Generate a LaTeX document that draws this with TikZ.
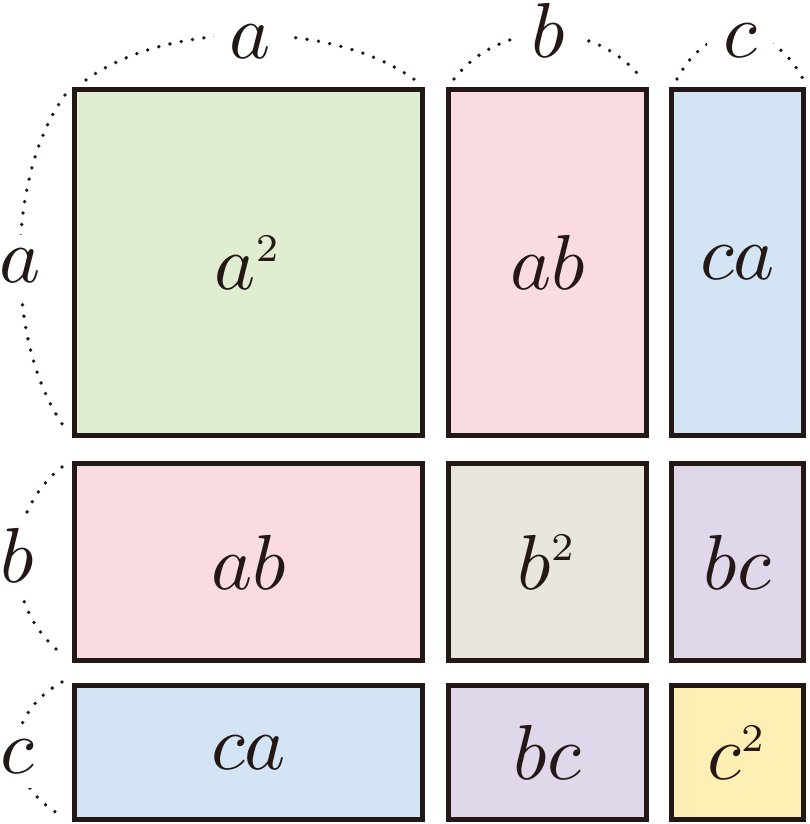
\documentclass[tikz,border=0pt]{standalone}
\usepackage{graphicx}
\definecolor{bord}{HTML}{231815}
\definecolor{cgreen}{HTML}{E1EDD0}
\definecolor{cpink}{HTML}{F9DBE1}
\definecolor{cblue}{HTML}{D3E5F5}
\definecolor{cbeige}{HTML}{E9E7DD}
\definecolor{cpurple}{HTML}{E1D7EB}
\definecolor{cyellow}{HTML}{FFEFB5}
\newcommand{\mylbl}[1]{\scalebox{7.8}{$#1$}}
\newcommand{\sqtwo}{\scalebox{0.72}{$\scriptstyle 2$}}
\tikzset{
  cell/.style={draw=bord, line width=5pt, rectangle, inner sep=0pt, text=bord},
  dimline/.style={draw=bord, line width=3.8pt, line cap=round, dash pattern=on 0pt off 11.5pt},
  toplabel/.style={fill=white, inner xsep=16pt, inner ysep=1pt, text=bord, anchor=base, yshift=-24pt},
  leftlabel/.style={fill=white, inner xsep=2pt, inner ysep=14pt, text=bord},
}
\begin{document}
\begin{tikzpicture}[x=1pt,y=-1pt]
\useasboundingbox (0,0) rectangle (810,824);
% cells
\node[cell, fill=cgreen,  minimum width=348pt, minimum height=346pt] (aa) at (248.5,262.5) {\mylbl{a^{\sqtwo}}};
\node[cell, fill=cpink,   minimum width=198pt, minimum height=346pt] (ab1) at (547.5,262.5) {\mylbl{ab}};
\node[cell, fill=cblue,   minimum width=132pt, minimum height=346pt] (ca1) at (737.5,262.5) {\mylbl{ca}};
\node[cell, fill=cpink,   minimum width=348pt, minimum height=197pt] (ab2) at (248.5,562) {\mylbl{ab}};
\node[cell, fill=cbeige,  minimum width=198pt, minimum height=197pt] (bb) at (547.5,562) {\mylbl{b^{\sqtwo}}};
\node[cell, fill=cpurple, minimum width=132pt, minimum height=197pt] (bc1) at (737.5,562) {\mylbl{bc}};
\node[cell, fill=cblue,   minimum width=348pt, minimum height=134pt] (ca2) at (248.5,752.5) {\mylbl{ca}};
\node[cell, fill=cpurple, minimum width=198pt, minimum height=134pt] (bc2) at (547.5,752.5) {\mylbl{bc}};
\node[cell, fill=cyellow, minimum width=132pt, minimum height=134pt] (cc) at (737.5,752.5) {\mylbl{c^{\sqtwo}}};
% dimension arc end points
\coordinate (ta1) at (86,80);  \coordinate (ta2) at (415,80);
\coordinate (tb1) at (454,79); \coordinate (tb2) at (642,79);
\coordinate (tc1) at (677,79); \coordinate (tc2) at (803,79);
\coordinate (la1) at (65,95);  \coordinate (la2) at (65,428);
\coordinate (lb1) at (62,467); \coordinate (lb2) at (62,654);
\coordinate (lc1) at (62,682); \coordinate (lc2) at (62,816);
% top arcs
\draw[dimline] (ta1) .. controls (168,20) and (333,20) .. node[toplabel] (labta) {\mylbl{a}} (ta2);
\draw[dimline] (tb1) .. controls (501,19) and (595,19) .. node[toplabel] (labtb) {\mylbl{b}} (tb2);
\draw[dimline] (tc1) .. controls (708.5,19) and (771.5,19) .. node[toplabel] (labtc) {\mylbl{c}} (tc2);
% left arcs
\draw[dimline] (la1) .. controls (5,178) and (5,345) .. node[leftlabel, yshift=-4pt] (labla) {\mylbl{a}} (la2);
\draw[dimline] (lb1) .. controls (2,514) and (2,607) .. node[leftlabel, yshift=5pt] (lablb) {\mylbl{b}} (lb2);
\draw[dimline] (lc1) .. controls (2,715.5) and (2,782.5) .. node[leftlabel, yshift=-8pt] (lablc) {\mylbl{c}} (lc2);
\end{tikzpicture}
\end{document}
